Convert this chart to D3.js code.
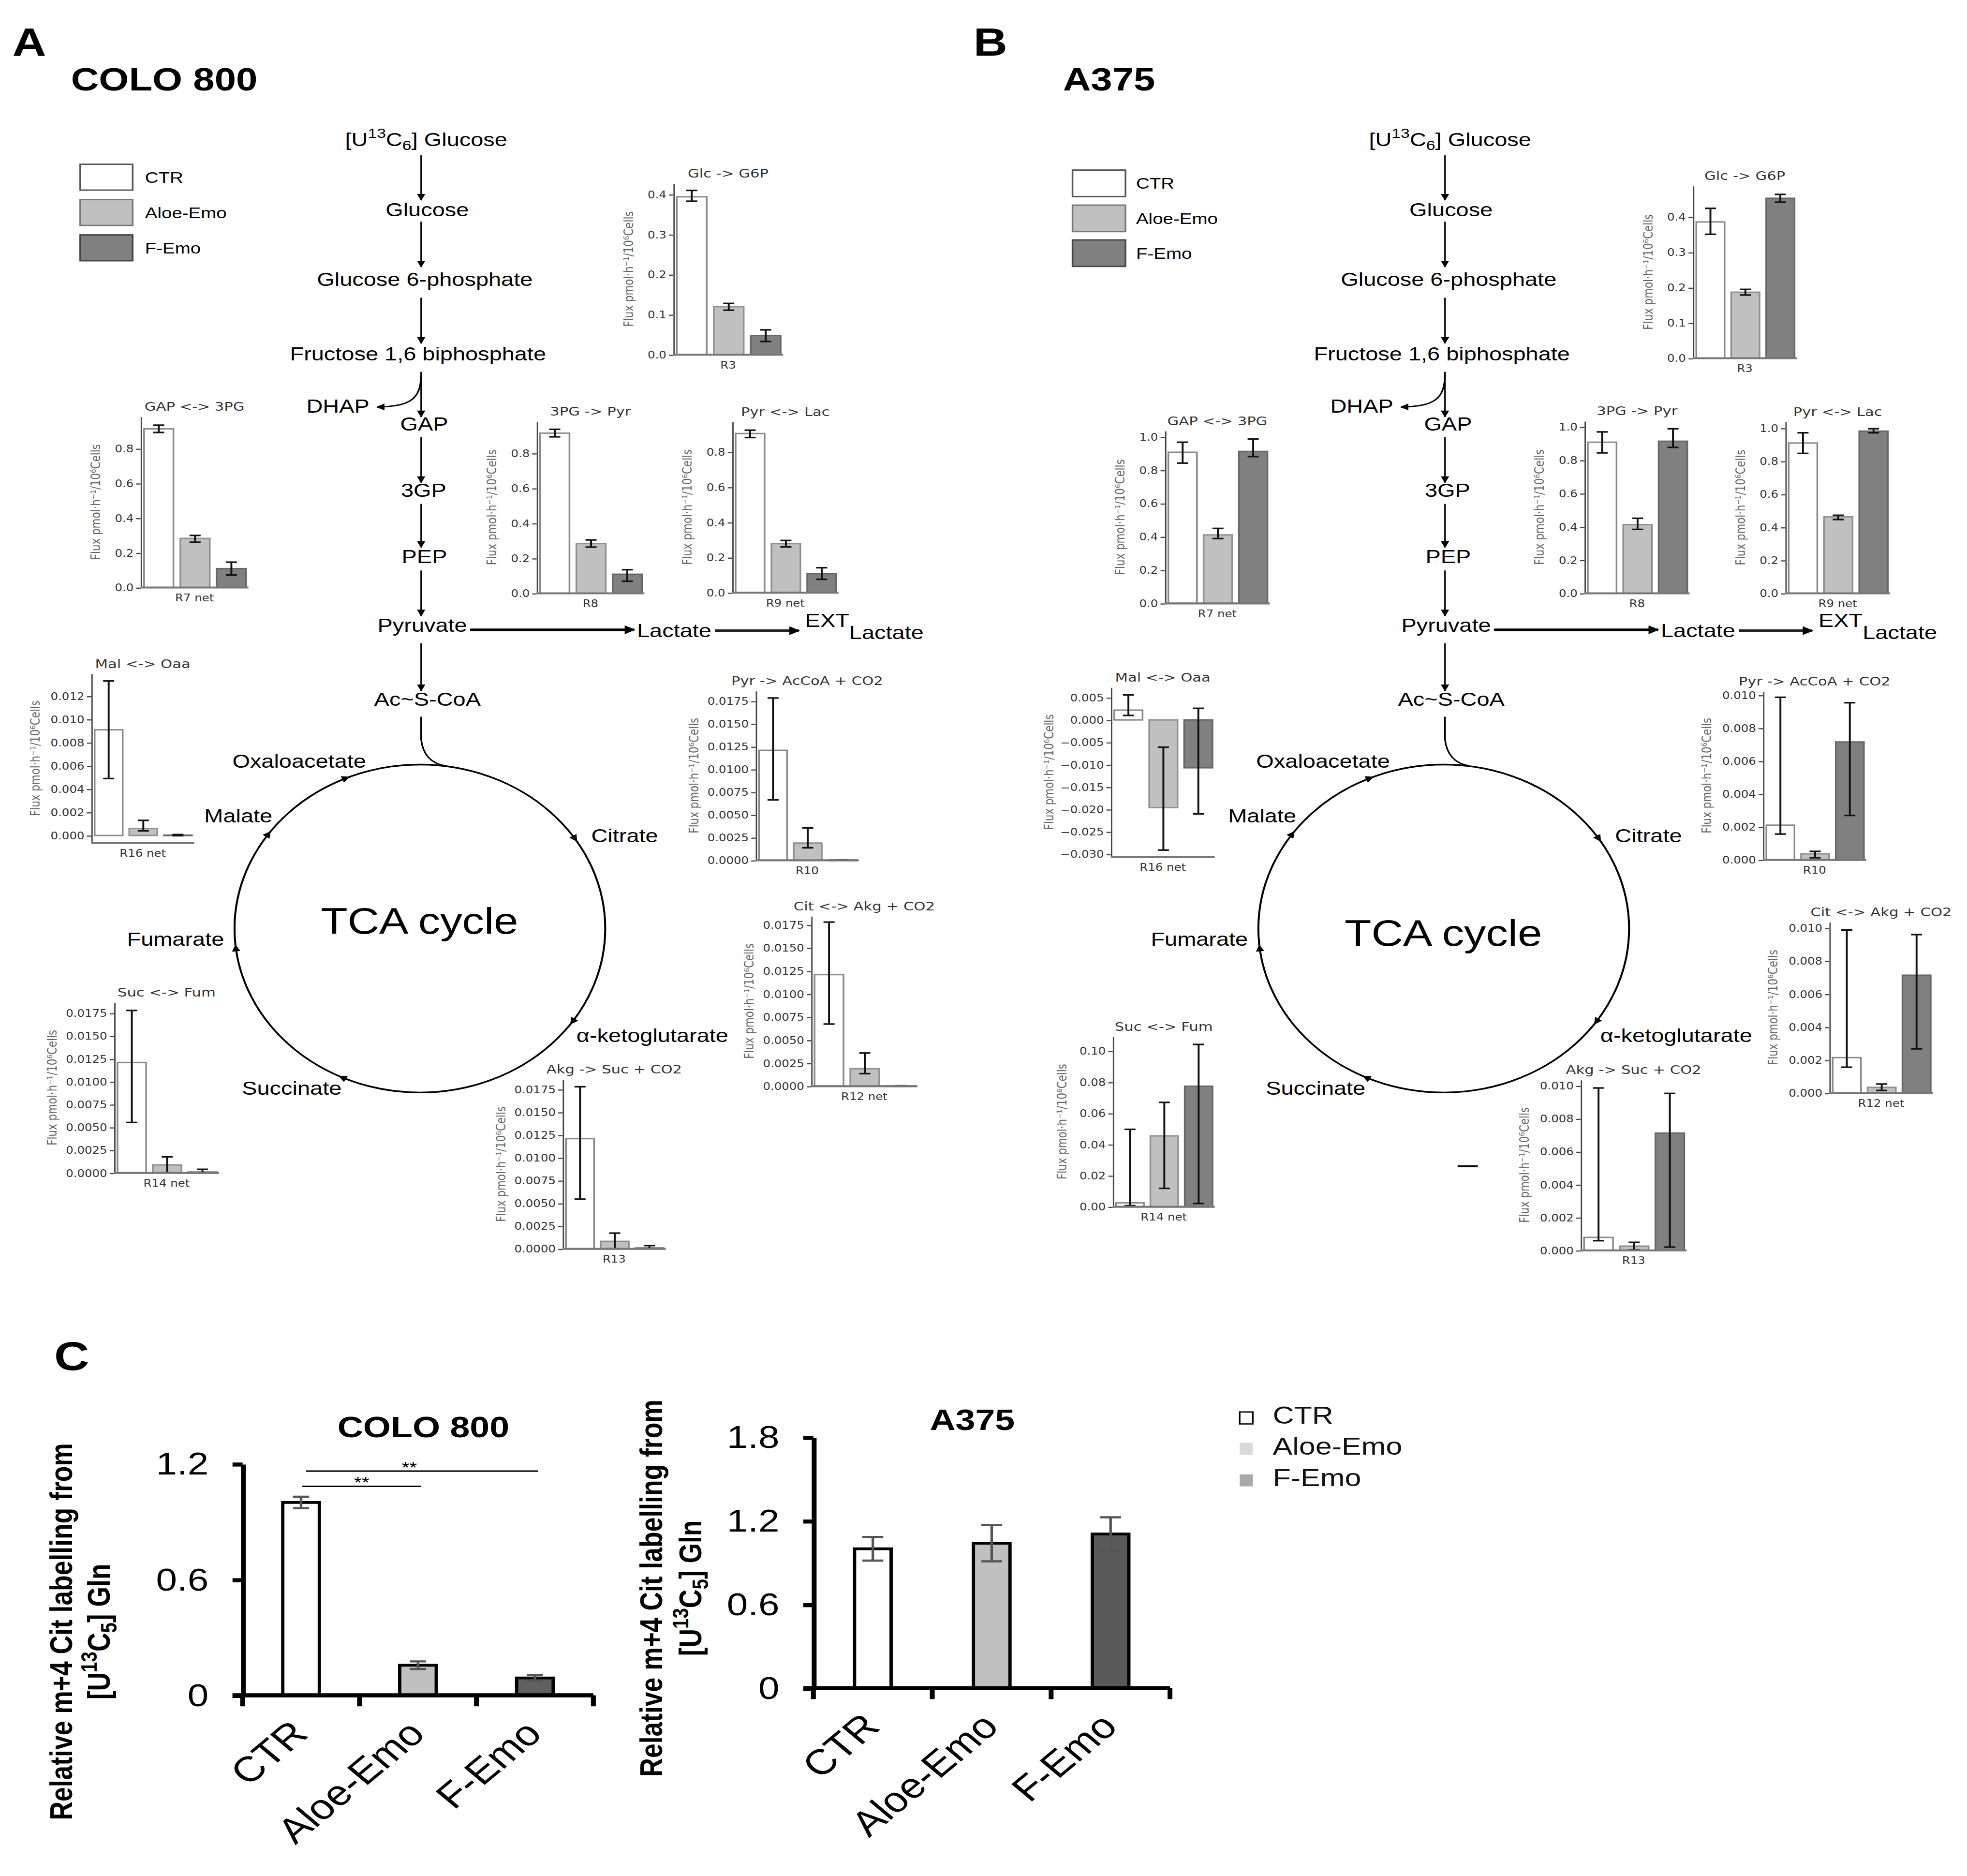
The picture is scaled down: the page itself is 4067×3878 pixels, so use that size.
<!DOCTYPE html>
<html>
<head>
<meta charset="utf-8">
<script src="https://cdn.jsdelivr.net/npm/d3@7"></script>
<style>
  body { margin: 0; background: #fff; }
</style>
</head>
<body>
<script>
// ---------- data ----------
const groups = ["CTR", "Aloe-Emo", "F-Emo"];

const reactions = ["Glc -> G6P", "GAP <-> 3PG", "3PG -> Pyr", "Pyr <-> Lac", "Mal <-> Oaa",
    "Pyr -> AcCoA + CO2", "Cit <-> Akg + CO2", "Suc <-> Fum", "Akg -> Suc + CO2"];
const reactionIds = ["R3", "R7 net", "R8", "R9 net", "R16 net", "R10", "R12 net", "R14 net", "R13"];

// COLO 800 fluxes, per group: [estimate, lower CI, upper CI]
const coloR3 = [[0.394, 0.383, 0.410], [0.120, 0.111, 0.128], [0.048, 0.033, 0.062]];
const coloR7 = [[0.914, 0.893, 0.935], [0.283, 0.261, 0.300], [0.109, 0.072, 0.146]];
const coloR8 = [[0.915, 0.894, 0.937], [0.284, 0.264, 0.305], [0.109, 0.069, 0.135]];
const coloR9 = [[0.905, 0.882, 0.924], [0.279, 0.260, 0.297], [0.108, 0.076, 0.142]];
const coloR16 = [[0.0091, 0.0049, 0.0133], [0.0006, 0.0004, 0.0013], [0.00003, -0.00002, 0.00008]];
const coloR10 = [[0.0121, 0.00665, 0.01785], [0.0019, 0.00138, 0.00356], [0.00003, 0.00001, 0.00005]];
const coloR12 = [[0.0121, 0.00674, 0.0178], [0.0019, 0.00136, 0.0036], [0.00003, 0.00001, 0.00005]];
const coloR14 = [[0.0121, 0.00553, 0.0178], [0.00088, 0.00005, 0.00177], [0.0001, 0.00005, 0.0004]];
const coloR13 = [[0.0121, 0.00546, 0.0178], [0.00083, 0.00002, 0.00173], [0.0001, 0.00001, 0.00036]];

// A375 fluxes
const a375R3 = [[0.386, 0.351, 0.4245], [0.187, 0.179, 0.195], [0.453, 0.442, 0.464]];
const a375R7 = [[0.907, 0.842, 0.967], [0.411, 0.389, 0.450], [0.912, 0.881, 0.987]];
const a375R8 = [[0.908, 0.844, 0.970], [0.413, 0.384, 0.451], [0.914, 0.877, 0.989]];
const a375R9 = [[0.910, 0.847, 0.972], [0.4635, 0.4467, 0.4725], [0.982, 0.972, 0.9966]];
const a375R16 = [[0.0022, 0.0010, 0.0056], [-0.0196, -0.0291, -0.0061], [-0.0107, -0.0210, 0.0026]];
const a375R10 = [[0.00211, 0.00157, 0.00987], [0.00037, 0.00013, 0.00052], [0.00716, 0.0027, 0.00954]];
const a375R12 = [[0.00215, 0.00157, 0.00988], [0.00035, 0.00016, 0.00055], [0.00714, 0.00268, 0.0096]];
const a375R14 = [[0.0025, 0.0007, 0.0497], [0.0455, 0.0118, 0.0670], [0.0774, 0.0021, 0.1042]];
const a375R13 = [[0.00079, 0.00059, 0.00987], [0.00026, 0.00003, 0.00049], [0.00713, 0.0002, 0.00954]];

// tick values of the flux panels
const ticksR3 = [0, 0.1, 0.2, 0.3, 0.4];
const ticksGlyA = [0, 0.2, 0.4, 0.6, 0.8];
const ticksGlyB = [0, 0.2, 0.4, 0.6, 0.8, 1.0];
const ticksTcaA = [0, 0.0025, 0.005, 0.0075, 0.01, 0.0125, 0.015, 0.0175];
const ticksMalA = [0, 0.002, 0.004, 0.006, 0.008, 0.010, 0.012];
const ticksTcaB = [0, 0.002, 0.004, 0.006, 0.008, 0.010];
const ticksMalB = [-0.030, -0.025, -0.020, -0.015, -0.010, -0.005, 0, 0.005];
const ticksSucB = [0, 0.02, 0.04, 0.06, 0.08, 0.10];

// panel C: relative m+4 citrate labelling
const citColo = [1.00, 0.156, 0.090];
const citColoErr = [0.03, 0.02, 0.015];
const citA375 = [1.00, 1.04, 1.106];
const citA375Err = [0.085, 0.13, 0.12];
const citTicksColo = [0, 0.6, 1.2];
const citTicksA375 = [0, 0.6, 1.2, 1.8];
const sigColo = [["CTR", "Aloe-Emo", "**"], ["CTR", "F-Emo", "**"]];

// ---------- setup ----------
const K = 1.2;               // the source figure is stretched horizontally
const X = v => v / K;
const SANS = "'Liberation Sans', Arial, Helvetica, sans-serif";
const MPL = "'DejaVu Sans', sans-serif";

const fluxFill = ["#ffffff", "#c0c0c0", "#808080"];
const fluxEdge = ["#888888", "#8f8f8f", "#666666"];
const legendEdge = ["#555", "#777", "#444"];

const svg = d3.select("body").append("svg")
    .attr("width", 4067).attr("height", 3878)
    .attr("viewBox", "0 0 1560 1487");
svg.append("rect").attr("width", 1560).attr("height", 1487).attr("fill", "#fff");

const defs = svg.append("defs");
function marker(id, w, h) {
    defs.append("marker").attr("id", id)
        .attr("viewBox", "0 0 10 10").attr("refX", 9).attr("refY", 5)
        .attr("markerWidth", w).attr("markerHeight", h)
        .attr("markerUnits", "userSpaceOnUse").attr("orient", "auto")
        .append("path").attr("d", "M0,0 L10,5 L0,10 z").attr("fill", "#000");
}
marker("ah", 7, 5.5);
marker("ah2", 9, 7);

const root = svg.append("g").attr("transform", `scale(${K},1)`);

// ---------- helpers ----------
function label(g, s, x, y, size, anchor, extra) {
    const t = g.append("text").attr("x", x).attr("y", y)
        .attr("font-family", SANS).attr("font-size", size)
        .attr("text-anchor", anchor || "middle").attr("fill", "#000").text(s);
    if (extra) extra(t);
    return t;
}

function isoLabel(t, sup, sub, rest, size) {
    t.text(null);
    t.append("tspan").text("[U");
    t.append("tspan").attr("dy", -0.42 * size).attr("font-size", size * 0.72).text(sup);
    t.append("tspan").attr("dy", 0.42 * size).text("C");
    t.append("tspan").attr("dy", 0.22 * size).attr("font-size", size * 0.72).text(sub);
    t.append("tspan").attr("dy", -0.22 * size).text(rest);
}

// small matplotlib-style flux bar chart
function fluxChart(cfg, values, title, rid, ticks, fmt) {
    const x0 = X(cfg.ax), x1 = X(cfg.ex);
    const y = d3.scaleLinear().domain([cfg.lo || 0, cfg.hi]).range([cfg.yb, cfg.yt]);
    const x = d3.scaleBand().domain(groups).range([x0 + X(1.3), x1 - X(0.4)])
        .paddingInner(0.19).paddingOuter(0.05);
    const g = root.append("g");

    g.selectAll("rect.bar").data(values).join("rect").attr("class", "bar")
        .attr("x", (d, i) => x(groups[i]))
        .attr("width", x.bandwidth())
        .attr("y", d => y(Math.max(0, d[0])))
        .attr("height", d => Math.max(0.4, Math.abs(y(d[0]) - y(0))))
        .attr("fill", (d, i) => fluxFill[i])
        .attr("stroke", (d, i) => fluxEdge[i])
        .attr("stroke-width", 1.1);

    const cap = X(4.4);
    const eb = g.selectAll("g.err").data(values).join("g").attr("class", "err")
        .attr("stroke", "#111").attr("stroke-width", 1.25);
    eb.append("line")
        .attr("x1", (d, i) => x(groups[i]) + x.bandwidth() / 2)
        .attr("x2", (d, i) => x(groups[i]) + x.bandwidth() / 2)
        .attr("y1", d => y(d[1])).attr("y2", d => y(d[2]));
    [1, 2].forEach(k => {
        eb.append("line")
            .attr("x1", (d, i) => x(groups[i]) + x.bandwidth() / 2 - cap)
            .attr("x2", (d, i) => x(groups[i]) + x.bandwidth() / 2 + cap)
            .attr("y1", d => y(d[k])).attr("y2", d => y(d[k]));
    });

    const ga = g.append("g").attr("transform", `translate(${x0},0)`)
        .call(d3.axisLeft(y).tickValues(ticks).tickFormat(d3.format(fmt))
            .tickSize(X(3.5)).tickSizeOuter(0).tickPadding(X(2)));
    ga.attr("font-family", MPL).attr("font-size", 7.8);
    ga.select(".domain").attr("stroke", "#444").attr("stroke-width", 0.9);
    ga.selectAll(".tick line").attr("stroke", "#444").attr("stroke-width", 0.9);
    ga.selectAll(".tick text").attr("fill", "#333");

    g.append("line").attr("x1", x0).attr("x2", x1)
        .attr("y1", cfg.yb).attr("y2", cfg.yb)
        .attr("stroke", "#777").attr("stroke-width", 1.6);

    g.append("text").attr("x", (x0 + x1) / 2).attr("y", cfg.yt - 4.5)
        .attr("text-anchor", "middle").attr("font-family", MPL).attr("font-size", 9.8)
        .attr("fill", "#333").text(title);
    g.append("text").attr("x", (x0 + x1) / 2).attr("y", cfg.yb + 11)
        .attr("text-anchor", "middle").attr("font-family", MPL).attr("font-size", 7.8)
        .attr("fill", "#333").text(rid);

    const n = d3.max(ticks, t => d3.format(fmt)(t).length);
    const lx = x0 - X(22 + 4.5 * n);
    g.append("text")
        .attr("transform", `translate(${lx},${(cfg.yt + cfg.yb) / 2}) rotate(-90)`)
        .attr("text-anchor", "middle").attr("dy", "0.35em")
        .attr("font-family", MPL).attr("font-size", 8.2).attr("fill", "#666")
        .text("Flux pmol\u00b7h\u207b\u00b9/10\u2076Cells");
}

// glycolysis + TCA cycle diagram
function pathway(ox, tcaY, extDx) {
    const g = root.append("g");
    const px = v => (v + ox) / K;
    const axis = px(334);

    const t0 = label(g, "", px(338), 115.5, 15);
    isoLabel(t0, "13", "6", "] Glucose", 15);
    label(g, "Glucose", px(338.8), 171.2, 15);
    label(g, "Glucose 6-phosphate", px(336.9), 226.6, 15);
    label(g, "Fructose 1,6 biphosphate", px(331.5), 285.7, 15);
    label(g, "DHAP", px(268), 327, 15);
    label(g, "GAP", px(336.4), 341.3, 15);
    label(g, "3GP", px(336), 393.7, 15);
    label(g, "PEP", px(336.6), 446.2, 15);
    label(g, "Pyruvate", px(334.9), 500.6, 15);
    label(g, "Lactate", px(534.7), 505, 15);
    const ext = label(g, "EXT", px(638.5 + extDx), 496.9, 15, "start");
    ext.append("tspan").attr("dy", 9.5).text("Lactate");
    label(g, "Ac~S-CoA", px(339), 559.5, 15);
    label(g, "Oxaloacetate", px(237.3), 608.3, 15);
    label(g, "Malate", px(189), 652, 15);
    label(g, "Citrate", px(495.4), 667.4, 15);
    label(g, "TCA cycle", px(332.7), tcaY, 29);
    label(g, "Fumarate", px(139.2), 749.6, 15);
    label(g, "\u03b1-ketoglutarate", px(517.4), 825.9, 15);
    label(g, "Succinate", px(231.4), 867.9, 15);

    const steps = [[122.9, 158.5], [175.5, 211.4], [235.8, 272], [294.5, 330.3],
        [346.4, 382.4], [399.3, 433.8], [452.1, 488.1], [509.8, 547.5]];
    steps.forEach(([a, b]) => {
        g.append("line").attr("x1", axis).attr("x2", axis).attr("y1", a).attr("y2", b)
            .attr("stroke", "#000").attr("stroke-width", 1).attr("marker-end", "url(#ah)");
    });

    g.append("path")
        .attr("d", `M${axis},296 C${axis},316 ${px(326)},322 ${px(299)},322.5`)
        .attr("fill", "none").attr("stroke", "#000").attr("stroke-width", 1.1)
        .attr("marker-end", "url(#ah)");

    g.append("line").attr("x1", px(372.8)).attr("x2", px(503)).attr("y1", 499.1).attr("y2", 499.1)
        .attr("stroke", "#000").attr("stroke-width", 2).attr("marker-end", "url(#ah2)");
    g.append("line").attr("x1", px(567)).attr("x2", px(633.6 + extDx)).attr("y1", 499.8).attr("y2", 499.8)
        .attr("stroke", "#222").attr("stroke-width", 2).attr("marker-end", "url(#ah2)");

    // TCA cycle
    const cx = px(333), cy = 736, rx = X(147), ry = 130;
    g.append("ellipse").attr("cx", cx).attr("cy", cy).attr("rx", rx).attr("ry", ry)
        .attr("fill", "none").attr("stroke", "#000").attr("stroke-width", 1.3);
    g.append("path")
        .attr("d", `M${axis},568 L${axis},586 Q${px(336)},604 ${px(353)},607`)
        .attr("fill", "none").attr("stroke", "#000").attr("stroke-width", 1.1);

    [-112.4, -143.8, -32.2, 174.2, 35.6, 115.8].forEach(deg => {
        const th = deg * Math.PI / 180;
        const x = cx + rx * Math.cos(th), y = cy + ry * Math.sin(th);
        const tx = -rx * Math.sin(th), ty = ry * Math.cos(th);
        const len = Math.hypot(tx, ty);
        g.append("line")
            .attr("x1", x - tx / len * 2).attr("y1", y - ty / len * 2)
            .attr("x2", x).attr("y2", y)
            .attr("stroke", "#000").attr("stroke-width", 1)
            .attr("marker-end", "url(#ah)");
    });
}

function legend(x0, x1, tops, h, tx) {
    const g = root.append("g");
    groups.forEach((name, i) => {
        g.append("rect").attr("x", X(x0)).attr("y", tops[i])
            .attr("width", X(x1 - x0)).attr("height", h)
            .attr("fill", fluxFill[i]).attr("stroke", legendEdge[i]).attr("stroke-width", 1.1);
        label(g, name, X(tx), tops[i] + h / 2 + 4.4, 12.3, "start");
    });
}

// panel C chart
function citChart(cfg, vals, errs, fills, ticks) {
    const x0 = X(cfg.ax), x1 = X(cfg.ex);
    const x = d3.scaleBand().domain(groups).range([x0, x1]);
    const y = d3.scaleLinear().domain([0, cfg.max]).range([cfg.y0, cfg.yt]);
    const g = root.append("g");
    const bw = X(cfg.barW);
    const mid = name => x(name) + x.bandwidth() / 2;

    g.selectAll("rect.cit").data(vals).join("rect").attr("class", "cit")
        .attr("x", (d, i) => mid(groups[i]) - bw / 2)
        .attr("y", d => y(d))
        .attr("width", bw)
        .attr("height", d => y(0) - y(d))
        .attr("fill", (d, i) => fills[i])
        .attr("stroke", "#000").attr("stroke-width", 2.2);

    const cap = X(cfg.cap);
    const eb = g.selectAll("g.cerr").data(vals).join("g").attr("class", "cerr")
        .attr("stroke", "#555").attr("stroke-width", 1.7);
    eb.append("line")
        .attr("x1", (d, i) => mid(groups[i])).attr("x2", (d, i) => mid(groups[i]))
        .attr("y1", (d, i) => y(d - errs[i])).attr("y2", (d, i) => y(d + errs[i]));
    [-1, 1].forEach(s => {
        eb.append("line")
            .attr("x1", (d, i) => mid(groups[i]) - cap).attr("x2", (d, i) => mid(groups[i]) + cap)
            .attr("y1", (d, i) => y(d + s * errs[i])).attr("y2", (d, i) => y(d + s * errs[i]));
    });

    const ga = g.append("g").attr("transform", `translate(${x0},0)`)
        .call(d3.axisLeft(y).tickValues(ticks).tickFormat(d => d)
            .tickSize(X(8)).tickSizeOuter(0).tickPadding(X(19)));
    ga.attr("font-family", SANS).attr("font-size", 25);
    ga.select(".domain").attr("stroke", "#000").attr("stroke-width", 3.2);
    ga.selectAll(".tick line").attr("stroke", "#000").attr("stroke-width", 3.2);
    ga.selectAll(".tick text").attr("fill", "#000");

    g.append("line").attr("x1", x0 - X(8)).attr("x2", x1)
        .attr("y1", cfg.y0).attr("y2", cfg.y0)
        .attr("stroke", "#000").attr("stroke-width", 3.2);
    d3.range(groups.length + 1).forEach(i => {
        const xx = x0 + i * x.step();
        g.append("line").attr("x1", xx).attr("x2", xx)
            .attr("y1", cfg.y0).attr("y2", cfg.y0 + 8.7)
            .attr("stroke", "#000").attr("stroke-width", 3.2);
    });

    groups.forEach(name => {
        g.append("text")
            .attr("transform", `translate(${mid(name) + X(7)},${cfg.y0 + 32}) rotate(-45)`)
            .attr("text-anchor", "end").attr("font-family", SANS).attr("font-size", 28)
            .text(name);
    });

    label(g, cfg.title, X(cfg.titleX), cfg.titleY, 23.5, "middle",
        t => t.attr("font-weight", "bold"));

    g.append("text")
        .attr("transform", `translate(${X(cfg.t1x)},${cfg.tcy}) rotate(-90)`)
        .attr("text-anchor", "middle").attr("font-family", SANS).attr("font-weight", "bold")
        .attr("font-size", 20.5).text("Relative m+4 Cit labelling from");
    const t2 = g.append("text")
        .attr("transform", `translate(${X(cfg.t2x)},${cfg.tcy}) rotate(-90)`)
        .attr("text-anchor", "middle").attr("font-family", SANS).attr("font-weight", "bold")
        .attr("font-size", 20.5);
    isoLabel(t2, "13", "5", "] Gln", 20.5);

    return { g, mid };
}

// ---------- panel headers ----------
const heads = [["A", 9.8, 44, 31], ["B", 772, 44, 31], ["C", 43, 1086, 32]];
heads.forEach(([s, x, y, size]) => label(root, s, X(x), y, size, "start", t => t.attr("font-weight", "bold")));
label(root, "COLO 800", X(56.3), 71.5, 25.5, "start", t => t.attr("font-weight", "bold"));
label(root, "A375", X(843), 71.5, 25.5, "start", t => t.attr("font-weight", "bold"));

// ---------- panels A and B ----------
pathway(0, 740.1, 0);
pathway(812, 749.6, -8.3);
legend(63.6, 105.2, [130, 158, 186], 20.5, 115);
legend(850.6, 892.6, [134.6, 162.4, 190], 21, 901);

const coloLayout = [
    { ax: 534, ex: 621, yt: 145, yb: 281, hi: 0.428 },
    { ax: 111.5, ex: 197, yt: 330, yb: 465.6, hi: 0.985 },
    { ax: 425.6, ex: 511, yt: 333.9, yb: 470.2, hi: 0.982 },
    { ax: 580.7, ex: 665, yt: 334, yb: 469.7, hi: 0.973 },
    { ax: 72.4, ex: 154, yt: 533.8, yb: 668.2, lo: -0.00065, hi: 0.01394 },
    { ax: 599.3, ex: 681, yt: 547.5, yb: 681.9, hi: 0.01864 },
    { ax: 643.3, ex: 727.5, yt: 726, yb: 861, hi: 0.01847 },
    { ax: 90.5, ex: 173.7, yt: 794.5, yb: 929.8, hi: 0.01869 },
    { ax: 446.2, ex: 528, yt: 855.5, yb: 990, hi: 0.01862 }
];
const a375Layout = [
    { ax: 1342.6, ex: 1425, yt: 147, yb: 283.8, hi: 0.4886 },
    { ax: 923.9, ex: 1007, yt: 341.3, yb: 478.2, hi: 1.036 },
    { ax: 1256.6, ex: 1340, yt: 333.5, yb: 470.2, hi: 1.036 },
    { ax: 1415.9, ex: 1499, yt: 334, yb: 470.2, hi: 1.04 },
    { ax: 881, ex: 963.4, yt: 544.6, yb: 679.3, lo: -0.03065, hi: 0.00733 },
    { ax: 1398.2, ex: 1480, yt: 547.8, yb: 681.6, hi: 0.01024 },
    { ax: 1450.8, ex: 1533, yt: 730.7, yb: 866.5, hi: 0.01037 },
    { ax: 882.5, ex: 963.4, yt: 821.6, yb: 956.6, hi: 0.1093 },
    { ax: 1253.6, ex: 1337.6, yt: 855.9, yb: 991.2, hi: 0.01037 }
];

const coloData = [coloR3, coloR7, coloR8, coloR9, coloR16, coloR10, coloR12, coloR14, coloR13];
const a375Data = [a375R3, a375R7, a375R8, a375R9, a375R16, a375R10, a375R12, a375R14, a375R13];
const coloTicks = [[ticksR3, ".1f"], [ticksGlyA, ".1f"], [ticksGlyA, ".1f"], [ticksGlyA, ".1f"],
    [ticksMalA, ".3f"], [ticksTcaA, ".4f"], [ticksTcaA, ".4f"], [ticksTcaA, ".4f"], [ticksTcaA, ".4f"]];
const a375Ticks = [[ticksR3, ".1f"], [ticksGlyB, ".1f"], [ticksGlyB, ".1f"], [ticksGlyB, ".1f"],
    [ticksMalB, ".3f"], [ticksTcaB, ".3f"], [ticksTcaB, ".3f"], [ticksSucB, ".2f"], [ticksTcaB, ".3f"]];

reactions.forEach((r, i) => {
    fluxChart(coloLayout[i], coloData[i], r, reactionIds[i], coloTicks[i][0], coloTicks[i][1]);
    fluxChart(a375Layout[i], a375Data[i], r, reactionIds[i], a375Ticks[i][0], a375Ticks[i][1]);
});

// small stray dash in panel B
root.append("line").attr("x1", X(1156)).attr("x2", X(1172)).attr("y1", 924.5).attr("y2", 924.5)
    .attr("stroke", "#000").attr("stroke-width", 1.5);

// ---------- panel C ----------
const colo = citChart({ ax: 192.4, ex: 470.6, y0: 1344, yt: 1160.5, max: 1.2, barW: 29, cap: 6.4,
    title: "COLO 800", titleX: 335.8, titleY: 1139.4, t1x: 57, t2x: 87, tcy: 1293.5 },
    citColo, citColoErr, ["#ffffff", "#c0c0c0", "#606060"], citTicksColo);
citChart({ ax: 645.1, ex: 927.9, y0: 1338.3, yt: 1139.4, max: 1.8, barW: 29, cap: 8.3,
    title: "A375", titleX: 771.1, titleY: 1133.7, t1x: 525, t2x: 556, tcy: 1259 },
    citA375, citA375Err, ["#ffffff", "#c0c0c0", "#595959"], citTicksA375);

// significance brackets
const sigY = [1178.3, 1166.2];
sigColo.forEach(([a, b, s], i) => {
    const xa = colo.mid(a) + X(1 + 3 * i), xb = colo.mid(b) + X(2.5);
    colo.g.append("line").attr("x1", xa).attr("x2", xb).attr("y1", sigY[i]).attr("y2", sigY[i])
        .attr("stroke", "#000").attr("stroke-width", 1.1);
    label(colo.g, s, (xa + xb) / 2 - X(i * 10), sigY[i] + 1.5, 13);
});

// panel C legend
const citLegendFill = ["#ffffff", "#d9d9d9", "#a9a9a9"];
const citLegendTop = [1119.3, 1143.8, 1168.8];
groups.forEach((name, i) => {
    root.append("rect").attr("x", X(983.2)).attr("y", citLegendTop[i])
        .attr("width", X(10.4)).attr("height", 9.5)
        .attr("fill", citLegendFill[i])
        .attr("stroke", i === 0 ? "#000" : "none").attr("stroke-width", 1);
    label(root, name, X(1009.4), citLegendTop[i] + 9.3, 19.5, "start", t => t.attr("fill", "#111"));
});
</script>
</body>
</html>
